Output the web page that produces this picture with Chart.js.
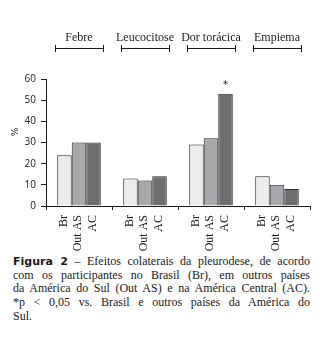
<!DOCTYPE html>
<html>
<head>
<meta charset="utf-8">
<script src="https://cdn.jsdelivr.net/npm/chart.js@4/dist/chart.umd.min.js"></script>
<style>
  html, body { margin: 0; padding: 0; background: #fff; }
  #wrap { position: relative; width: 322px; height: 346px; overflow: hidden; }
  #c { position: absolute; left: 0; top: 0; }
  #cap { position: absolute; left: 13px; top: 255px; width: 297px;
         font: 12px "Liberation Serif", serif; line-height: 13.7px; color: #1a1a1a; }
  #cap .ln { text-align: justify; text-align-last: justify; white-space: nowrap; }
  #cap .ln.last { text-align-last: left; }
  #cap b { font-family: "DejaVu Sans", sans-serif; font-size: 11px; font-weight: bold; }
</style>
</head>
<body>
<div id="wrap">
  <canvas id="c" width="322" height="252"></canvas>
  <div id="cap">
    <div class="ln"><b>Figura 2</b> – Efeitos colaterais da pleurodese, de acordo</div>
    <div class="ln">com os participantes no Brasil (Br), em outros países</div>
    <div class="ln">da América do Sul (Out AS) e na América Central (AC).</div>
    <div class="ln">*p &lt; 0,05 vs. Brasil e outros países da América do</div>
    <div class="ln last">Sul.</div>
  </div>
</div>
<script>
// Side effects of pleurodesis (%) by participant region
const categories = ['Febre', 'Leucocitose', 'Dor torácica', 'Empiema'];
const seriesNames = ['Br', 'Out AS', 'AC'];
const brValues = [24, 13, 29, 14];
const outAsValues = [30, 12, 32, 10];
const acValues = [30, 14, 53, 8];
// significance marker drawn above the AC bar
const acMarks = ['', '', '*', ''];
const yTicks = [0, 10, 20, 30, 40, 50, 60];

const fills = ['#ebedea', '#a8a8ac', '#6e6e6e'];
const serifFont = '12px "Liberation Serif", serif';

const annotate = {
  id: 'annotate',
  afterDraw(chart) {
    const ctx = chart.ctx;
    const x = chart.scales.x;
    const area = chart.chartArea;
    const step = x.width / categories.length;
    ctx.save();
    // category headers with brackets above the plot
    ctx.fillStyle = '#1a1a1a';
    ctx.strokeStyle = '#1a1a1a';
    ctx.lineWidth = 1;
    ctx.font = serifFont;
    ctx.textAlign = 'center';
    ctx.textBaseline = 'middle';
    categories.forEach((name, i) => {
      const cx = x.getPixelForValue(i);
      const hw = step * 0.365;
      ctx.fillText(name, cx, 38);
      ctx.beginPath();
      ctx.moveTo(cx - hw, 48.5); ctx.lineTo(cx + hw, 48.5);
      ctx.moveTo(Math.round(cx - hw) + 0.5, 45); ctx.lineTo(Math.round(cx - hw) + 0.5, 52);
      ctx.moveTo(Math.round(cx + hw) + 0.5, 45); ctx.lineTo(Math.round(cx + hw) + 0.5, 52);
      ctx.stroke();
    });
    // series name under every bar, rotated
    chart.data.datasets.forEach((ds, d) => {
      const meta = chart.getDatasetMeta(d);
      meta.data.forEach(el => {
        ctx.save();
        ctx.translate(el.x - 1, area.bottom + 9);
        ctx.rotate(-Math.PI / 2);
        ctx.textAlign = 'right';
        ctx.textBaseline = 'middle';
        ctx.font = serifFont;
        ctx.fillText(ds.label, 0, 0);
        ctx.restore();
      });
    });
    // significance asterisks
    const acMeta = chart.getDatasetMeta(2);
    ctx.font = '10px "DejaVu Sans", sans-serif';
    ctx.textAlign = 'center';
    ctx.textBaseline = 'middle';
    acMarks.forEach((m, i) => {
      if (!m) return;
      const el = acMeta.data[i];
      ctx.fillText(m, el.x, el.y - 8);
    });
    // axis unit
    ctx.save();
    ctx.translate(16, chart.scales.y.getPixelForValue(35));
    ctx.rotate(-Math.PI / 2);
    ctx.font = '9px "DejaVu Sans", sans-serif';
    ctx.fillText('%', 0, 0);
    ctx.restore();
    ctx.restore();
  }
};

new Chart(document.getElementById('c'), {
  type: 'bar',
  data: {
    labels: categories,
    datasets: [brValues, outAsValues, acValues].map((vals, i) => ({
      label: seriesNames[i],
      data: vals,
      backgroundColor: fills[i],
      borderColor: '#2a2a2a',
      borderWidth: 1,
      categoryPercentage: 0.66,
      barPercentage: 1.0
    }))
  },
  options: {
    responsive: false,
    devicePixelRatio: 1,
    animation: false,
    layout: { padding: { top: 79, right: 12, left: 0, bottom: 0 } },
    plugins: { legend: { display: false }, tooltip: { enabled: false } },
    scales: {
      x: {
        afterFit(s) { s.height = 46; },
        ticks: { display: false },
        grid: { offset: true, drawOnChartArea: false, drawTicks: true, tickLength: 4, color: '#1a1a1a' },
        border: { display: true, color: '#1a1a1a', width: 1 }
      },
      y: {
        min: 0, max: 60,
        afterFit(s) { s.width = 46; },
        afterBuildTicks(s) { s.ticks = yTicks.map(v => ({ value: v })); },
        ticks: { color: '#222', font: { family: '"Open Sans", sans-serif', size: 10 }, padding: 5 },
        grid: { drawOnChartArea: false, drawTicks: true, tickLength: 5, color: '#1a1a1a' },
        border: { display: true, color: '#1a1a1a', width: 1 }
      }
    }
  },
  plugins: [annotate]
});
</script>
</body>
</html>
